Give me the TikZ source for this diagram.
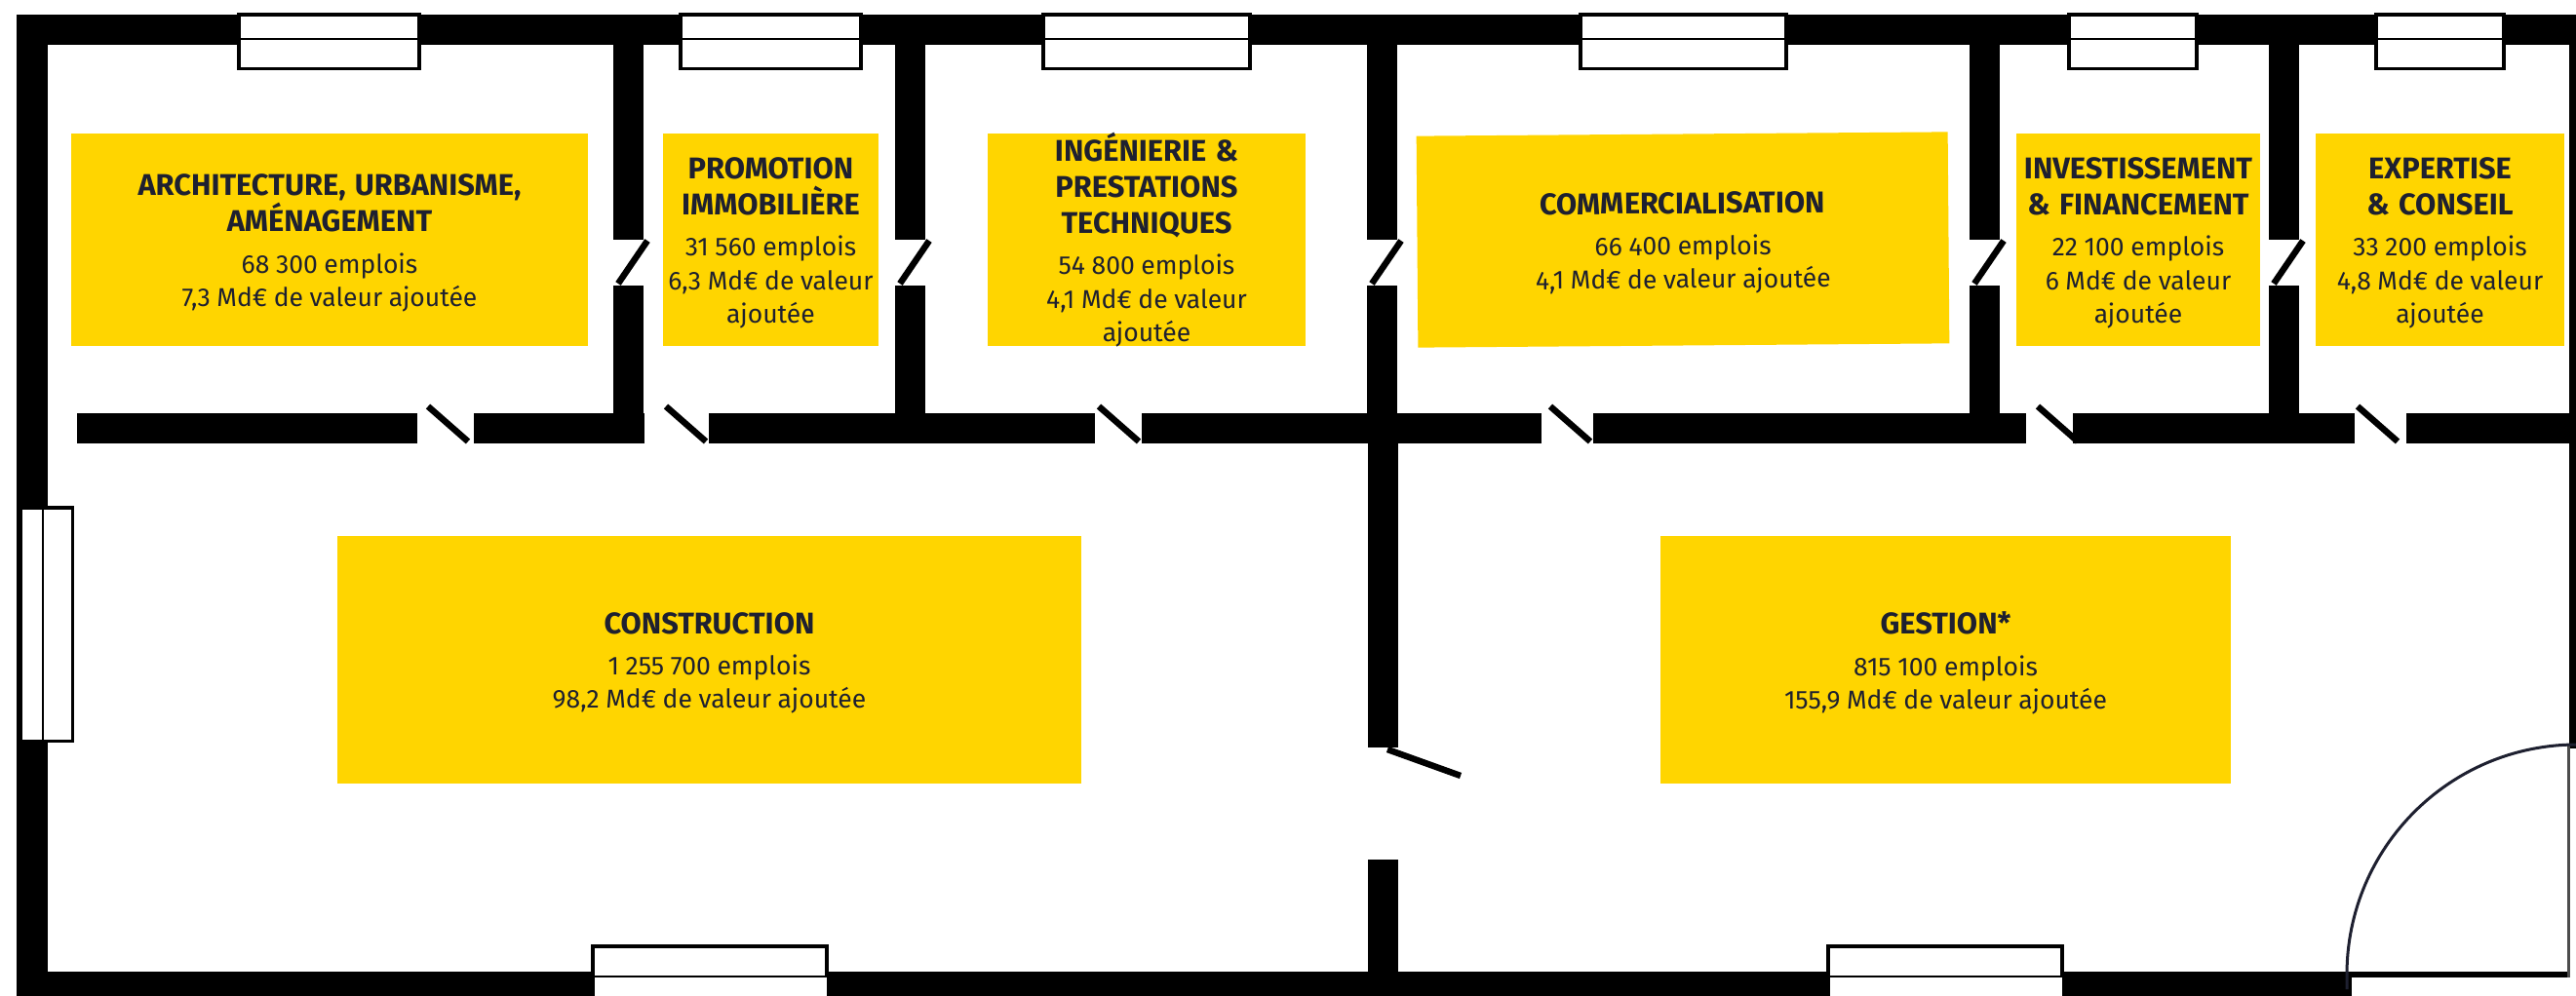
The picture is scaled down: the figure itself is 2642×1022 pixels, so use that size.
\documentclass[tikz,border=0pt]{standalone}
\usepackage{fontspec}
\setmainfont{Fira Sans}
\definecolor{eyyellow}{HTML}{FFD500}
\definecolor{eyink}{HTML}{1E2030}
\newcommand{\ttl}[1]{{\fontsize{30.8}{37}\selectfont\bfseries\spaceskip=.3em\relax #1\par}\vspace{8pt}}
\newcommand{\bdy}[1]{{\fontsize{26.5}{34.3}\selectfont\spaceskip=.25em\relax #1\par}}
\newcommand{\cnt}[3][7pt]{\parbox[c][100pt][c]{#2}{\centering\vspace*{#1}#3}}
\newcommand{\wtop}[2]{\draw[winframe] (#1,15) rectangle (#2,70.5); \draw[winline] (#1,40) -- (#2,40);}
\newcommand{\wbot}[2]{\fill[white] (#1,971) rectangle (#2,1022); \draw[winframe,fill=none] (#1,1022) -- (#1,971) -- (#2,971) -- (#2,1002); \draw[winline] (#1,1002) -- (#2,1002);}
\newcommand{\pwall}[1]{\fill[wall] (#1,46) rectangle ++(31,199.6); \fill[wall] (#1,293) rectangle ++(31,140); \draw[leaf] (#1+5,291) -- (#1+35,247);}
\tikzset{
  wall/.style={fill=black},
  winframe/.style={draw=black,fill=white,line width=3.5pt},
  winline/.style={draw=black,line width=2.2pt},
  leaf/.style={draw=black,line width=6.5pt},
  ybox/.style={fill=eyyellow,text=eyink,inner sep=0pt}
}
\begin{document}
\begin{tikzpicture}[x=1pt,y=-1pt]
\useasboundingbox (0,0) rectangle (2642,1022);
\fill[white] (0,0) rectangle (2642,1022);
% outer walls
\fill[wall] (17,15) rectangle (2642,46);
\fill[wall] (17,15) rectangle (49,1022);
\fill[wall] (17,997) rectangle (2412,1022);
\fill[wall] (2635,15) rectangle (2642,768);
\fill[wall] (2412,997) rectangle (2636,1003);
\fill[black!70] (2633,765) rectangle (2636,1003);
% lower wall leaves (under the wall)
\draw[leaf] (439,417) -- (480,453);
\draw[leaf] (683,417) -- (724,453);
\draw[leaf] (1127,417) -- (1168,453);
\draw[leaf] (1590,417) -- (1631,453);
\draw[leaf] (2090,417) -- (2131,453);
\draw[leaf] (2418,417) -- (2459,453);
% lower wall
\fill[wall] (79,424) rectangle (428,455);
\fill[wall] (486,424) rectangle (661,455);
\fill[wall] (727,424) rectangle (1123,455);
\fill[wall] (1171,424) rectangle (1581,455);
\fill[wall] (1634,424) rectangle (2078,455);
\fill[wall] (2126,424) rectangle (2415,455);
\fill[wall] (2468,424) rectangle (2642,455);
% partitions
\pwall{629}
\pwall{918}
\pwall{1402}
\pwall{2020}
\pwall{2327}
% central wall
\fill[wall] (1403,455) rectangle (1434,767);
\fill[wall] (1403,882) rectangle (1434,997);
\draw[leaf] (1423,769) -- (1498,796);
% door arc
\draw[eyink,line width=3pt] (2407,1015) -- (2407,1000) arc[start angle=180,end angle=270,radius=236] -- (2643,764);
% windows top
\wtop{245}{430}
\wtop{698}{883}
\wtop{1070}{1282}
\wtop{1621}{1832}
\wtop{2122}{2253}
\wtop{2437}{2568}
% window left
\draw[winframe] (21,521) rectangle (74.5,760.5);
\draw[winline] (44,521) -- (44,760.5);
% windows bottom
\wbot{608}{848}
\wbot{1875}{2115}
% yellow boxes
\node[ybox,minimum width=530pt,minimum height=218pt] (archi) at (338,246) {\cnt{530pt}{\ttl{ARCHITECTURE, URBANISME,\\AMÉNAGEMENT}\bdy{68 300 emplois\\7,3 Md€ de valeur ajoutée}}};
\node[ybox,minimum width=221pt,minimum height=218pt] (promo) at (790.5,246) {\cnt{221pt}{\ttl{PROMOTION\\IMMOBILIÈRE}\bdy{31 560 emplois\\6,3 Md€ de valeur\\ajoutée}}};
\node[ybox,minimum width=326pt,minimum height=218pt] (inge) at (1176,246) {\cnt[0pt]{326pt}{\ttl{INGÉNIERIE \&\\PRESTATIONS\\TECHNIQUES}\bdy{54 800 emplois\\4,1 Md€ de valeur\\ajoutée}}};
\node[ybox,minimum width=545pt,minimum height=217pt,rotate=0.45] (comm) at (1726,246) {\cnt{545pt}{\ttl{COMMERCIALISATION}\bdy{66 400 emplois\\4,1 Md€ de valeur ajoutée}}};
\node[ybox,minimum width=250pt,minimum height=218pt] (inve) at (2193,246) {\cnt{250pt}{\ttl{INVESTISSEMENT\\\& FINANCEMENT}\bdy{22 100 emplois\\6 Md€ de valeur\\ajoutée}}};
\node[ybox,minimum width=255pt,minimum height=218pt] (expe) at (2502.5,246) {\cnt{255pt}{\ttl{EXPERTISE\\\& CONSEIL}\bdy{33 200 emplois\\4,8 Md€ de valeur\\ajoutée}}};
\node[ybox,minimum width=763pt,minimum height=254pt] (cons) at (727.5,677) {\cnt{763pt}{\ttl{CONSTRUCTION}\bdy{1 255 700 emplois\\98,2 Md€ de valeur ajoutée}}};
\node[ybox,minimum width=585pt,minimum height=254pt] (gest) at (1995.5,677) {\cnt{585pt}{\ttl{GESTION*}\bdy{815 100 emplois\\155,9 Md€ de valeur ajoutée}}};
\end{tikzpicture}
\end{document}
